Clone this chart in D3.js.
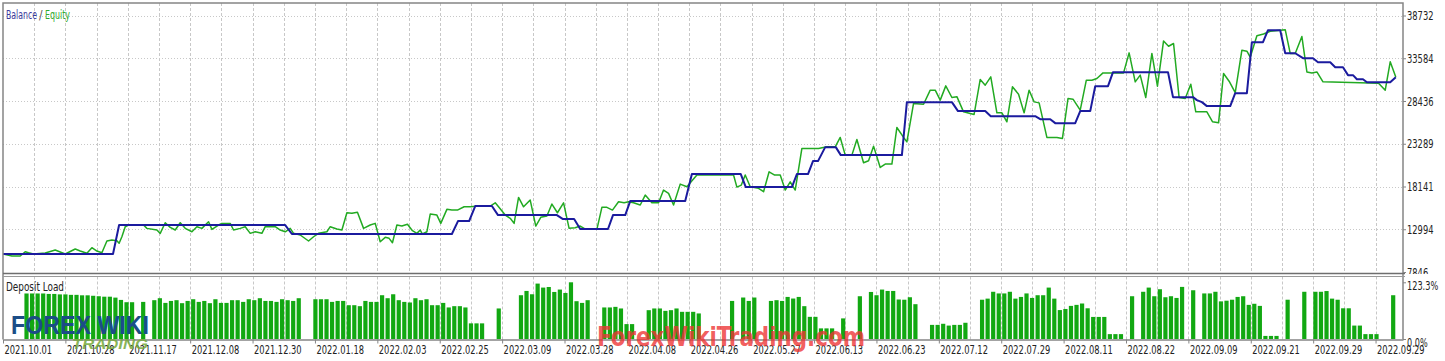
<!DOCTYPE html>
<html>
<head>
<meta charset="utf-8">
<script src="https://cdn.jsdelivr.net/npm/d3@7"></script>
<style>
  body { margin: 0; background: #fff; }
  text { font-family: 'DejaVu Sans Condensed', 'Liberation Sans Narrow', sans-serif; }
</style>
</head>
<body>
<svg id="chart" width="1445" height="361"></svg>
<script>
// ---------------------------------------------------------------- data
// x runs over deal slots (0..252)
const SLOTS = 252;

const balance = [
  [0,10010],[19.8,10010],[20.9,13500],[50.8,13500],[52.0,12420],[80.8,12420],[81.9,13980],[83.9,13980],
  [85.0,15790],[88.0,15790],[89.1,14700],[99.7,14700],[100.8,14220],[102.8,14220],[103.9,13020],[108.9,13020],
  [109.8,14700],[112.0,14700],[112.9,16390],[122.8,16390],[124.0,19640],[132.8,19640],[133.7,18070],[142.0,18070],
  [142.9,19640],[144.9,19640],[145.8,21200],[146.7,21200],[148.0,22880],[149.9,22880],[150.8,21920],[161.8,21920],
  [162.7,28300],[170.8,28300],[171.9,27220],[176.8,27220],[177.8,26610],[185.8,26610],[186.7,26250],[188.5,26250],
  [189.4,25770],[193.0,25770],[193.9,27220],[195.7,27220],[196.6,30220],[198.9,30220],[199.8,31910],[209.7,31910],
  [210.6,28900],[214.2,28900],[214.9,28540],[215.8,28300],[216.7,27820],[220.9,27820],[221.8,29380],[223.9,29380],
  [224.8,35520],[226.8,35520],[227.7,36960],[229.9,36960],[230.8,34190],[232.6,34190],[234.0,33590],[235.8,33590],
  [236.7,33110],[238.9,33110],[239.8,32510],[241.2,32510],[242.1,31550],[243.0,31550],[243.7,31060],[244.8,31060],
  [245.5,30700],[249.7,30700],[250.7,31310]
];

const equity = [
  [0,10010],[1.6,9770],[3.1,9770],[4.0,10290],[4.6,10170],[5.5,10010],[7.6,10130],[9.4,10490],[11.2,10010],
  [13.0,10610],[13.9,10370],[15.1,10100],[16.0,10770],[16.9,10370],[17.8,10170],[18.7,11580],[19.6,11700],
  [20.5,11610],[20.9,11300],[21.4,12090],[22.0,13300],[22.6,13500],[25.3,13500],[25.9,13100],[27.7,12900],
  [28.3,12500],[29.2,13780],[30.1,13220],[31.0,12900],[31.9,13780],[32.8,13100],[34.0,12690],[34.9,13300],
  [35.8,13100],[37.0,13900],[37.6,12980],[38.8,13500],[39.4,13700],[40.9,13700],[41.5,12900],[42.7,13100],
  [43.6,13300],[44.5,12500],[45.4,12690],[46.6,12500],[47.2,13300],[49.0,13300],[49.9,12900],[50.8,12690],
  [51.7,13100],[52.3,12500],[53.5,12300],[55.0,11580],[55.9,12090],[56.8,12500],[58.3,12690],[58.9,13300],
  [60.1,13020],[61.0,12900],[61.9,14980],[62.8,14910],[63.8,15030],[64.9,13100],[66.1,13500],[67.0,13700],
  [67.9,11490],[68.8,12020],[69.5,11900],[70.1,11370],[70.9,13500],[71.8,13380],[72.8,13590],[73.7,12820],
  [74.5,12500],[75.1,12900],[75.5,12420],[76.3,12690],[76.9,14820],[78.1,14700],[78.8,13700],[79.9,15390],
  [80.8,15300],[81.8,15300],[83.0,15700],[84.1,15700],[85.6,15790],[87.7,15790],[88.6,16180],[89.2,15700],
  [90.4,14700],[91.3,14310],[92.0,13700],[92.8,16830],[93.7,15700],[94.9,16510],[95.9,13380],[96.8,14430],
  [97.9,14580],[98.8,16030],[99.8,14980],[100.9,16180],[101.9,13100],[103.0,13180],[103.9,13380],[104.9,12980],
  [106.9,12980],[107.8,15630],[108.7,15630],[109.7,15300],[110.8,16300],[111.8,16180],[112.6,16300],[113.5,16180],
  [114.7,15910],[115.6,17110],[116.8,16180],[118.0,16180],[118.9,17710],[119.8,17310],[120.7,15910],[121.9,18430],
  [123.1,18110],[124.9,19520],[131.5,19520],[132.1,18070],[132.9,18310],[133.6,19520],[134.5,18110],[136.0,17920],
  [136.9,17510],[137.9,19910],[138.9,19520],[139.9,19520],[140.8,17710],[141.7,18710],[142.6,17710],[143.8,22730],
  [146.8,22730],[148.3,22920],[149.8,22920],[150.7,24050],[151.6,21920],[152.8,21920],[153.7,23810],[154.9,21000],
  [155.8,21240],[156.7,23000],[157.9,20440],[158.8,20840],[160.0,20840],[160.9,25250],[162.1,24050],[162.7,23520],
  [163.9,28140],[165.7,28040],[166.9,29740],[167.8,29740],[168.7,28540],[169.7,30260],[170.8,28860],[171.7,28960],
  [172.9,27130],[174.1,26940],[174.8,26820],[175.9,31030],[176.8,30340],[177.8,31340],[178.9,27010],[179.8,27010],
  [180.7,25930],[181.7,30140],[182.8,29260],[183.8,27010],[184.7,29740],[185.6,28330],[186.5,28210],[187.9,24050],
  [189.7,24050],[190.7,23930],[191.7,28740],[192.6,28660],[193.9,27340],[195.0,30940],[196.0,30940],[196.9,31150],
  [198.0,31820],[201.7,31820],[202.7,34230],[203.8,30740],[204.7,31550],[205.7,28860],[206.8,34160],[207.8,30220],
  [208.9,35670],[209.8,35030],[210.7,35360],[211.7,28860],[212.8,28740],[213.8,30460],[214.7,27130],[216.7,27130],
  [217.7,25950],[218.8,25810],[219.7,31750],[220.7,30820],[221.8,29440],[223.0,34550],[223.9,34430],[224.5,33710],
  [225.7,36300],[226.9,36510],[228.1,36840],[230.8,37020],[231.7,34160],[232.6,34160],[233.8,36200],[234.7,31940],
  [235.6,31820],[236.5,31940],[237.6,30740],[247.6,30580],[248.8,29740],[249.7,33150],[250.7,31340]
];

// deposit load per slot, % (0 = no position)
const depositLoad = [
  0,0,0,0,99,99,99,99,98,98,
  97,97,96,96,95,95,94,93,92,92,
  90,85,80,80,0,80.7,0,84.4,88.7,78.5,
  82.8,84.4,77.9,82.8,86.5,80.7,82.8,77.9,86.5,78.5,
  78.5,84.4,84.4,80.7,86.5,84.4,88.7,82.8,82.8,80.7,
  86.5,84.4,82.8,88.7,0,0,86.5,86.5,86.5,80.7,
  82.8,82.8,73.5,73.5,71.4,82.8,80.7,80.7,95.2,88.7,
  97.3,84.4,80.7,79.4,88.7,84.4,86.5,73.5,73.5,78.5,
  68.6,71.4,71.4,68.6,34.0,34.0,34.0,0,0,66.4,
  0,0,0,95.2,104.5,97.3,120.5,111.8,113.1,102.3,
  107.5,100.1,123.3,82.2,78.5,84.4,0,0,68.6,68.6,
  69.9,66.4,32.4,32.4,0,0,62.7,66.4,66.4,61.2,
  62.7,66.4,59.1,59.1,59.1,55.6,0,0,0,0,
  0,82.8,0,90.2,82.8,90.2,0,0,82.8,84.4,
  82.8,91.5,88.0,91.5,71.4,48.2,48.2,23.1,23.1,23.1,
  0,44.8,0,0,93.0,0,102.3,95.2,107.5,104.5,
  104.5,85.9,85.4,90.8,75.7,0,0,30.7,30.7,33.1,
  29.2,30.7,30.7,35.3,0,0,85.4,87.8,102.7,99.1,
  99.1,102.7,87.8,91.5,99.1,89.3,95.2,95.2,111.8,87.8,
  62.9,65.3,72.0,74.2,77.2,66.8,48.0,48.0,48.0,10.6,
  10.6,10.6,0,93.0,0,102.7,111.8,93.0,108.2,90.8,
  93.0,89.3,113.3,0,106.0,0,99.1,99.1,102.7,81.8,
  83.3,85.4,91.5,93.0,74.2,76.6,72.0,6.7,6.7,6.7,
  0,85.4,0,0,102.7,0,102.7,102.7,104.3,87.8,
  85.4,66.8,66.8,29.2,29.2,10.6,10.6,10.6,0,0,
  95.2,0
];

const yTicks = [7846, 12994, 18141, 23289, 28436, 33584, 38732];
const loadTicks = [0, 123.3];
const dateLabels = ['2021.10.01','2021.10.28','2021.11.17','2021.12.08','2021.12.30','2022.01.18',
  '2022.02.03','2022.02.25','2022.03.09','2022.03.28','2022.04.08','2022.04.26','2022.05.27',
  '2022.06.13','2022.06.23','2022.07.12','2022.07.29','2022.08.11','2022.08.22','2022.09.09',
  '2022.09.21','2022.09.29','2022.09.29'];

// ---------------------------------------------------------------- layout
const LEFT = 3, RIGHT = 1403, TOP = 3;
const MAIN_BOTTOM = 273.5, LOAD_TOP = 276.5, LOAD_BOTTOM = 339.5;
const X_TICK_STEP = 11.23;   // slots between date labels
const GRID = '#c8c8c8', FRAME = '#858585';
const BLUE = '#1b1b9e', GREEN = '#22aa22', BAR = '#12a812';

// the tester font is a narrow one; squeeze glyphs to its widths
const CHAR_W = { '.': 2.6, '%': 7.4, '/': 3.5, ' ': 3 };
const narrowWidth = s => Array.from(s).reduce((w, c) => w + (CHAR_W[c] || 5.3), 0);
const squeeze = sel => sel
  .attr('textLength', function () { return narrowWidth(this.textContent); })
  .attr('lengthAdjust', 'spacingAndGlyphs');

const svg = d3.select('#chart');

const x = d3.scaleLinear().domain([0, SLOTS]).range([LEFT, RIGHT]);
const y = d3.scaleLinear().domain([yTicks[0], yTicks[yTicks.length - 1]]).range([272, 15.5]);
const yLoad = d3.scaleLinear().domain(loadTicks).range([339, 282.3]);

const defs = svg.append('defs');
defs.append('clipPath').attr('id', 'mainClip')
  .append('rect').attr('x', LEFT).attr('y', TOP).attr('width', RIGHT - LEFT).attr('height', MAIN_BOTTOM - TOP);
defs.append('clipPath').attr('id', 'labelClip')
  .append('rect').attr('x', 0).attr('y', 0).attr('width', 1445).attr('height', 274);

// vertical grid (both panels)
const halfTicks = d3.range(1, 45).map(k => k * X_TICK_STEP / 2).filter(v => v < SLOTS);
[[TOP, MAIN_BOTTOM], [LOAD_TOP, LOAD_BOTTOM]].forEach(([a, b]) => {
  svg.append('g').selectAll('line').data(halfTicks).join('line')
    .attr('x1', d => Math.round(x(d)) + 0.5).attr('x2', d => Math.round(x(d)) + 0.5)
    .attr('y1', a).attr('y2', b)
    .attr('stroke', GRID).attr('stroke-dasharray', '3,2');
});

// horizontal grid (main panel)
svg.append('g').selectAll('line').data(yTicks.slice(1)).join('line')
  .attr('x1', LEFT).attr('x2', RIGHT)
  .attr('y1', d => Math.round(y(d)) + 0.5).attr('y2', d => Math.round(y(d)) + 0.5)
  .attr('stroke', GRID).attr('stroke-dasharray', '1,2');

// deposit load bars
svg.append('g').selectAll('rect')
  .data(depositLoad.map((v, i) => ({ i, v })).filter(d => d.v > 0))
  .join('rect')
  .attr('x', d => x(d.i) - 0.8)
  .attr('width', 4.2)
  .attr('y', d => yLoad(d.v))
  .attr('height', d => yLoad(0) - yLoad(d.v))
  .attr('fill', BAR);

// equity + balance lines
const line = d3.line().x(d => x(d[0])).y(d => y(d[1]));
const lines = svg.append('g').attr('clip-path', 'url(#mainClip)');
lines.append('path').datum(equity).attr('d', line)
  .attr('fill', 'none').attr('stroke', GREEN).attr('stroke-width', 1.5).attr('stroke-linejoin', 'round');
lines.append('path').datum(balance).attr('d', line)
  .attr('fill', 'none').attr('stroke', BLUE).attr('stroke-width', 2).attr('stroke-linejoin', 'round');

// frame
const frame = svg.append('g').attr('stroke', FRAME).attr('fill', 'none');
frame.append('path').attr('d', `M${LEFT},${LOAD_BOTTOM}V${TOP}H${RIGHT}V${LOAD_BOTTOM}`).attr('stroke-width', 1.5);
frame.append('line').attr('x1', LEFT).attr('x2', RIGHT + 2).attr('y1', MAIN_BOTTOM).attr('y2', MAIN_BOTTOM)
  .attr('stroke', '#6e6e6e').attr('stroke-width', 1.6);
frame.append('line').attr('x1', LEFT).attr('x2', RIGHT + 2).attr('y1', LOAD_TOP).attr('y2', LOAD_TOP)
  .attr('stroke', '#9a9a9a').attr('stroke-width', 1);

// axes
const styleAxis = g => {
  g.selectAll('line').attr('stroke', FRAME);
  g.selectAll('text').attr('fill', '#222').style('font-size', '12.5px').call(squeeze);
};

svg.append('g')
  .attr('transform', `translate(${RIGHT},0)`)
  .attr('clip-path', 'url(#labelClip)')
  .call(d3.axisRight(y).tickValues(yTicks).tickSize(3).tickPadding(1).tickFormat(d3.format('d')))
  .call(g => g.select('.domain').remove())
  .call(styleAxis);

svg.append('g')
  .attr('transform', `translate(${RIGHT},0)`)
  .call(d3.axisRight(yLoad).tickValues(loadTicks).tickSize(3).tickPadding(1).tickFormat(d => d.toFixed(1) + '%'))
  .call(g => g.select('.domain').remove())
  .call(g => g.selectAll('text').attr('dy', '0.58em'))
  .call(styleAxis);

svg.append('g')
  .attr('transform', `translate(0,${LOAD_BOTTOM})`)
  .call(d3.axisBottom(x).tickValues(dateLabels.map((d, k) => k * X_TICK_STEP))
    .tickSize(4).tickSizeOuter(0).tickPadding(2).tickFormat((d, k) => dateLabels[k]))
  .call(g => g.select('.domain').attr('stroke', FRAME).attr('stroke-width', 1.5))
  .call(g => g.selectAll('text').attr('text-anchor', 'start').attr('x', 1))
  .call(styleAxis);

// titles
const legendParts = [
  { text: 'Balance', x: 6, w: 31, fill: '#3a3a9c' },
  { text: '/', x: 39, w: 3.5, fill: '#555' },
  { text: 'Equity', x: 45, w: 25, fill: '#2faa2f' }
];
svg.append('g').selectAll('text').data(legendParts).join('text')
  .attr('x', d => d.x).attr('y', 19)
  .attr('textLength', d => d.w).attr('lengthAdjust', 'spacingAndGlyphs')
  .attr('fill', d => d.fill).style('font-size', '12.5px')
  .text(d => d.text);

svg.append('text').attr('x', 6).attr('y', 291).text('Deposit Load')
  .attr('fill', '#222').style('font-size', '12.5px')
  .attr('textLength', 58).attr('lengthAdjust', 'spacingAndGlyphs');

// watermarks
svg.append('text').attr('x', 731).attr('y', 346).attr('text-anchor', 'middle')
  .attr('textLength', 268).attr('lengthAdjust', 'spacingAndGlyphs')
  .attr('fill', '#ee3434').attr('fill-opacity', 0.8)
  .style('font-size', '27px').style('font-weight', 'bold')
  .text('ForexWikiTrading.com');

svg.append('text').attr('x', 11).attr('y', 334)
  .attr('textLength', 138).attr('lengthAdjust', 'spacingAndGlyphs')
  .attr('fill', '#1c4d87')
  .style('font-size', '25px').style('font-weight', 'bold').style('font-family', 'Liberation Sans, sans-serif')
  .text('FOREX WIKI');

svg.append('text').attr('x', 72).attr('y', 349)
  .attr('textLength', 76).attr('lengthAdjust', 'spacingAndGlyphs')
  .attr('fill', '#74a83a').attr('fill-opacity', 0.85)
  .style('font-size', '15px').style('font-weight', 'bold').style('font-style', 'italic')
  .style('font-family', 'Liberation Sans, sans-serif')
  .text('TRADING');
</script>
</body>
</html>
